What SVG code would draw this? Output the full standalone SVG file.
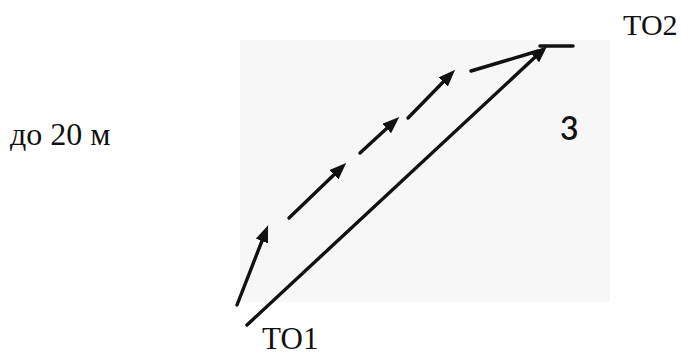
<svg xmlns="http://www.w3.org/2000/svg" width="681" height="356" viewBox="0 0 681 356">
<style>
.ln{stroke:#111;stroke-width:3.4;fill:none;stroke-linecap:round}
.serif{font-family:"Liberation Serif","Times New Roman",serif;fill:#111}
.sans{font-family:Lato,"Noto Sans",sans-serif;fill:#111}
</style>
<defs>
<marker id="ah" markerUnits="userSpaceOnUse" markerWidth="18" markerHeight="14" refX="8" refY="6.5" orient="auto">
<path d="M0,0 L17,6.5 L0,13 z" fill="#111"/>
</marker>
</defs>
<rect x="0" y="0" width="681" height="356" fill="#fff"/>
<rect x="240" y="40" width="370" height="262" fill="#f7f7f7"/>
<g id="connectors">
<line class="ln" x1="247" y1="325" x2="540.6" y2="52.1" marker-end="url(#ah)"/>
<line class="ln" x1="573" y1="46" x2="540" y2="46"/>
<line class="ln" x1="237" y1="305" x2="264.8" y2="233.6" marker-end="url(#ah)"/>
<line class="ln" x1="289" y1="218" x2="339.7" y2="169.2" marker-end="url(#ah)"/>
<line class="ln" x1="360" y1="153" x2="392.6" y2="123.1" marker-end="url(#ah)"/>
<line class="ln" x1="408" y1="118" x2="448.8" y2="76.3" marker-end="url(#ah)"/>
<line class="ln" x1="471" y1="71" x2="538" y2="51"/>
</g>
<g id="TO1"><text class="serif" x="262" y="349" font-size="31">ТО1</text></g>
<g id="TO2"><text class="serif" x="623" y="35" font-size="30">ТО2</text></g>
<g id="label3"><text class="sans" x="560" y="140" font-size="32" font-weight="600">3</text></g>
<g id="distance"><text class="serif" x="10" y="145" font-size="32">до 20 м</text></g>
</svg>
